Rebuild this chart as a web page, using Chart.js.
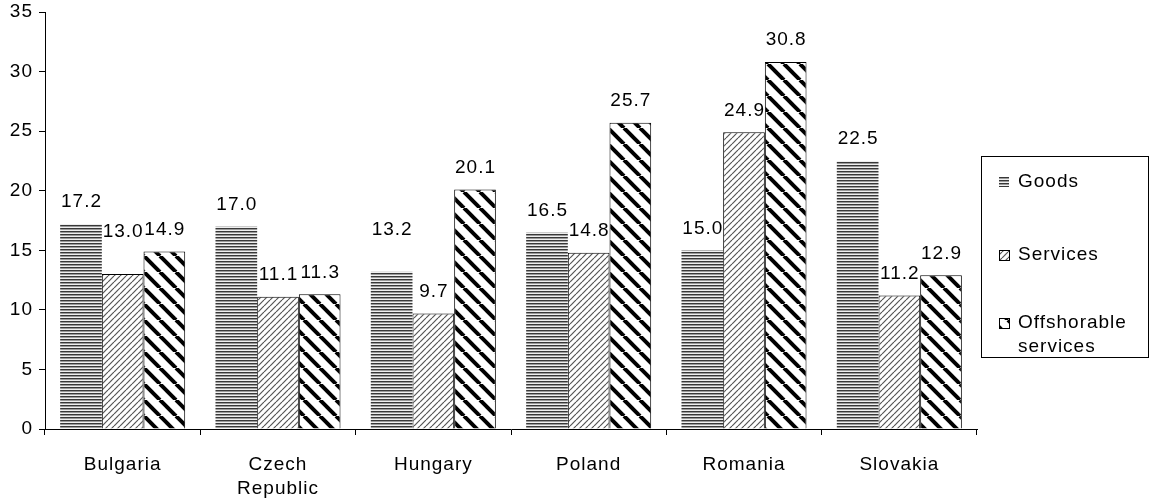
<!DOCTYPE html>
<html>
<head>
<meta charset="utf-8">
<script src="https://cdn.jsdelivr.net/npm/chart.js@4/dist/chart.umd.min.js"></script>
<style>
  html, body { margin: 0; padding: 0; background: #fff; }
</style>
</head>
<body>
<canvas id="shareChart" width="1150" height="503"></canvas>
<script>
// Category labels and series values
const countries = ['Bulgaria', ['Czech', 'Republic'], 'Hungary', 'Poland', 'Romania', 'Slovakia'];
const goods = [17.2, 17.0, 13.2, 16.5, 15.0, 22.5];
const services = [13.0, 11.1, 9.7, 14.8, 24.9, 11.2];
const offshorable = [14.9, 11.3, 20.1, 25.7, 30.8, 12.9];
const yTicks = [0, 5, 10, 15, 20, 25, 30, 35];

const FONT = '"Liberation Sans", Arial, sans-serif';
Chart.defaults.font.family = FONT;
Chart.defaults.font.size = 19;
Chart.defaults.color = '#000';

// --- hatch patterns ---
function makePattern(w, h, draw) {
  const c = document.createElement('canvas');
  c.width = w; c.height = h;
  const g = c.getContext('2d');
  g.fillStyle = '#fff';
  g.fillRect(0, 0, w, h);
  draw(g, w, h);
  return g.createPattern(c, 'repeat');
}

// horizontal stripes
const goodsFill = makePattern(1, 3, (g) => {
  g.fillStyle = '#383838'; g.fillRect(0, 0, 1, 1);
  g.fillStyle = '#9a9a9a'; g.fillRect(0, 1, 1, 1);
  g.fillStyle = '#efefef'; g.fillRect(0, 2, 1, 1);
});

// thin "/" lines
const servicesFill = makePattern(6, 6, (g, w, h) => {
  g.strokeStyle = '#555';
  g.lineWidth = 1.2;
  for (let k = -1; k <= 1; k++) {
    g.beginPath();
    g.moveTo(k * w, h);
    g.lineTo(k * w + w, 0);
    g.stroke();
  }
});

// thick "\" stripes
const offshoreFill = makePattern(16, 16, (g, w, h) => {
  g.strokeStyle = '#000';
  g.lineWidth = 4;
  for (let k = -1; k <= 1; k++) {
    g.beginPath();
    g.moveTo(k * w, 0);
    g.lineTo(k * w + w, h);
    g.stroke();
  }
});

// slightly wider letter spacing for all canvas text
const spacing = {
  id: 'spacing',
  beforeUpdate(chart) { chart.ctx.letterSpacing = '1px'; },
  beforeDraw(chart) { chart.ctx.letterSpacing = '1px'; }
};

// value labels above each bar
const barLabels = {
  id: 'barLabels',
  afterDatasetsDraw(chart, args, opts) {
    const ctx = chart.ctx;
    ctx.save();
    ctx.font = '19px ' + FONT;
    ctx.fillStyle = '#000';
    ctx.textAlign = 'center';
    ctx.textBaseline = 'middle';
    chart.data.datasets.forEach((ds, di) => {
      chart.getDatasetMeta(di).data.forEach((bar, i) => {
        const lift = opts.raised.some(r => r[0] === di && r[1] === i) ? 42 : 22;
        ctx.fillText(ds.data[i].toFixed(1), bar.x + 0.5, bar.y - lift);
      });
    });
    ctx.restore();
  }
};

// boxed legend on the right
const boxLegend = {
  id: 'boxLegend',
  afterDraw(chart) {
    const ctx = chart.ctx;
    const left = 981, top = 156, right = 1148, bottom = 357;
    ctx.save();
    ctx.strokeStyle = '#000';
    ctx.lineWidth = 1;
    ctx.strokeRect(left + 0.5, top + 0.5, right - left, bottom - top);
    ctx.font = '19px ' + FONT;
    ctx.textBaseline = 'middle';
    const rows = [182, 255, 323];
    chart.data.datasets.forEach((ds, i) => {
      const y = rows[i];
      ctx.fillStyle = ds.backgroundColor;
      ctx.fillRect(999, y - 5, 10, 10);
      if (ds.borderWidth) ctx.strokeRect(999.5, y - 4.5, 10, 10);
      ctx.fillStyle = '#000';
      const lines = Array.isArray(ds.legendText) ? ds.legendText : [ds.label];
      lines.forEach((t, j) => ctx.fillText(t, 1018, y + j * 24));
    });
    ctx.restore();
  }
};

new Chart(document.getElementById('shareChart'), {
  type: 'bar',
  data: {
    labels: countries,
    datasets: [
      { label: 'Goods', data: goods, backgroundColor: goodsFill, borderWidth: 0 },
      { label: 'Services', data: services, backgroundColor: servicesFill, borderColor: '#000', borderWidth: 1 },
      { label: 'Offshorable services', legendText: ['Offshorable', 'services'], data: offshorable,
        backgroundColor: offshoreFill, borderColor: '#000', borderWidth: 1 }
    ]
  },
  options: {
    responsive: false,
    animation: false,
    layout: { padding: { top: 12, right: 173, bottom: 0, left: 0 } },
    datasets: { bar: { categoryPercentage: 0.805, barPercentage: 1.0 } },
    plugins: {
      legend: { display: false },
      tooltip: { enabled: false },
      barLabels: { raised: [[1, 0], [0, 2]] }
    },
    scales: {
      x: {
        afterFit(scale) { scale.height = 74; },
        grid: { offset: true, drawOnChartArea: false, drawTicks: true, tickLength: 6, color: '#000' },
        border: { display: true, color: '#000', width: 1 },
        ticks: { padding: 18, maxRotation: 0, autoSkip: false, font: { lineHeight: 1.25 } }
      },
      y: {
        min: 0,
        max: 35,
        afterFit(scale) {
          scale.width = 45;
          scale.paddingTop = 0;
          scale.paddingBottom = 0;
        },
        afterBuildTicks(scale) { scale.ticks = yTicks.map(v => ({ value: v })); },
        grid: { drawOnChartArea: false, drawTicks: true, tickLength: 6, color: '#000' },
        border: { display: true, color: '#000', width: 1 },
        ticks: { padding: 6 }
      }
    }
  },
  plugins: [spacing, barLabels, boxLegend]
});
</script>
</body>
</html>
